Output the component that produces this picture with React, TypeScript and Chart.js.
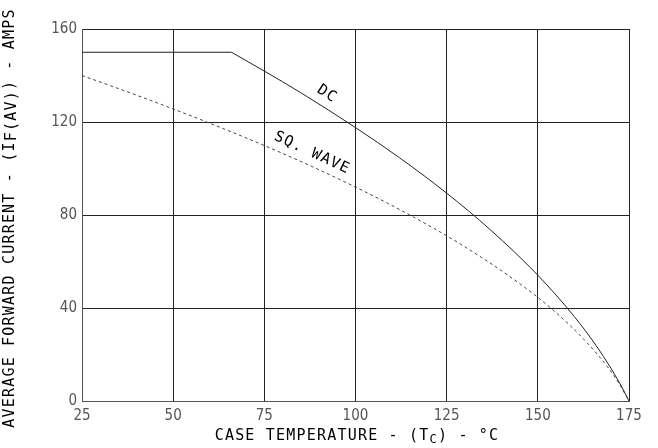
import React, { useEffect, useRef } from "react";
import { Chart, registerables } from "chart.js";

Chart.register(...registerables);

// Case temperature (°C) and average forward current (A)
// DC: flat at 150 A up to the knee at 66 °C, then a smooth derating curve
const dcTemps = [25, 66, 75, 85, 100, 112, 125, 137, 150, 160, 166, 170, 173, 175];
const dcAmps = [150, 150, 141.9, 132.6, 117.6, 104.7, 89.4, 73.6, 54.1, 36.3, 23.8, 14.2, 6.1, 0];
const dcKneeIndex = 1;

const sqTemps = [25, 40, 60, 80, 100, 115, 130, 145, 155, 163, 169, 172, 175];
const sqAmps = [140, 131.5, 119.5, 106.5, 92, 79.9, 66.3, 50.5, 38, 25.9, 14.9, 8.2, 0];

const xTicks = [25, 50, 75, 100, 125, 150, 175];
const yTicks = [0, 40, 80, 120, 160];

const MONO = "'DejaVu Sans Mono', 'Liberation Mono', monospace";
const NARROW = "'Liberation Sans Narrow', 'DejaVu Sans Condensed', 'Liberation Sans', sans-serif";

type Seg = { t: string; dy?: number; size?: number };

function drawSegs(ctx: CanvasRenderingContext2D, segs: Seg[], cx: number, cy: number, angle: number, base: number) {
  ctx.save();
  ctx.translate(cx, cy);
  ctx.rotate(angle);
  (ctx as any).letterSpacing = "1.2px";
  let total = 0;
  const widths: number[] = [];
  for (const s of segs) {
    ctx.font = `${s.size || base}px ${MONO}`;
    const w = ctx.measureText(s.t).width;
    widths.push(w);
    total += w;
  }
  let x = -total / 2;
  ctx.textBaseline = "middle";
  ctx.textAlign = "left";
  ctx.fillStyle = "#000";
  segs.forEach((s, i) => {
    ctx.font = `${s.size || base}px ${MONO}`;
    ctx.fillText(s.t, x, s.dy || 0);
    x += widths[i];
  });
  ctx.restore();
}

const textPlugin = {
  id: "textPlugin",
  afterDraw(chart: any) {
    const ctx: CanvasRenderingContext2D = chart.ctx;
    drawSegs(ctx, [{ t: "CASE TEMPERATURE - (T" }, { t: "C", dy: 4, size: 12 }, { t: ") - °C" }], 357, 436, 0, 15);
    drawSegs(
      ctx,
      [{ t: "AVERAGE FORWARD CURRENT - (I" }, { t: "F(AV)", dy: 2 }, { t: ") - AMPS" }],
      10,
      218,
      -Math.PI / 2,
      15
    );
    drawSegs(ctx, [{ t: "DC" }], 327, 94, (33 * Math.PI) / 180, 15);
    drawSegs(ctx, [{ t: "SQ. WAVE" }], 312, 153, (25 * Math.PI) / 180, 15);
  },
};

const toPoints = (xs: number[], ys: number[]) => xs.map((x, i) => ({ x, y: ys[i] }));

export default function App() {
  const ref = useRef<HTMLCanvasElement>(null);
  useEffect(() => {
    if (!ref.current) return;
    const dcPts = toPoints(dcTemps, dcAmps);
    const chart = new Chart(ref.current, {
      type: "line",
      data: {
        datasets: [
          {
            label: "DC",
            data: dcPts.slice(0, dcKneeIndex + 1),
            borderColor: "#222",
            borderWidth: 1,
            pointRadius: 0,
            tension: 0,
            fill: false,
          },
          {
            label: "DC curve",
            data: dcPts.slice(dcKneeIndex),
            borderColor: "#222",
            borderWidth: 1,
            pointRadius: 0,
            cubicInterpolationMode: "monotone",
            fill: false,
          },
          {
            label: "SQ. WAVE",
            data: toPoints(sqTemps, sqAmps),
            borderColor: "#444",
            borderWidth: 1,
            borderDash: [3, 3],
            pointRadius: 0,
            cubicInterpolationMode: "monotone",
            fill: false,
          },
        ],
      },
      options: {
        responsive: false,
        animation: false,
        devicePixelRatio: 1,
        layout: { padding: { top: 29, right: 29, left: 0, bottom: 0 } },
        plugins: { legend: { display: false }, tooltip: { enabled: false }, title: { display: false } },
        scales: {
          x: {
            type: "linear",
            min: 25,
            max: 175,
            afterFit: (s: any) => {
              s.height = 47;
            },
            afterBuildTicks: (s: any) => {
              s.ticks = xTicks.map((v) => ({ value: v }));
            },
            grid: { color: "#222", lineWidth: 1, drawTicks: false },
            border: { color: "#555", width: 1 },
            ticks: {
              color: "#555",
              padding: 6,
              maxRotation: 0,
              font: { family: NARROW, size: 15 },
            },
          },
          y: {
            type: "linear",
            min: 0,
            max: 160,
            afterFit: (s: any) => {
              s.width = 82;
            },
            afterBuildTicks: (s: any) => {
              s.ticks = yTicks.map((v) => ({ value: v }));
            },
            grid: { color: "#222", lineWidth: 1, drawTicks: false },
            border: { color: "#555", width: 1 },
            ticks: {
              color: "#555",
              padding: 5,
              font: { family: NARROW, size: 15 },
            },
          },
        },
      },
      plugins: [textPlugin],
    });
    return () => chart.destroy();
  }, []);
  return (
    <div style={{ position: "fixed", left: 0, top: 0, width: 658, height: 448, background: "#fff" }}>
      <canvas ref={ref} width={658} height={448} style={{ display: "block" }} />
    </div>
  );
}
